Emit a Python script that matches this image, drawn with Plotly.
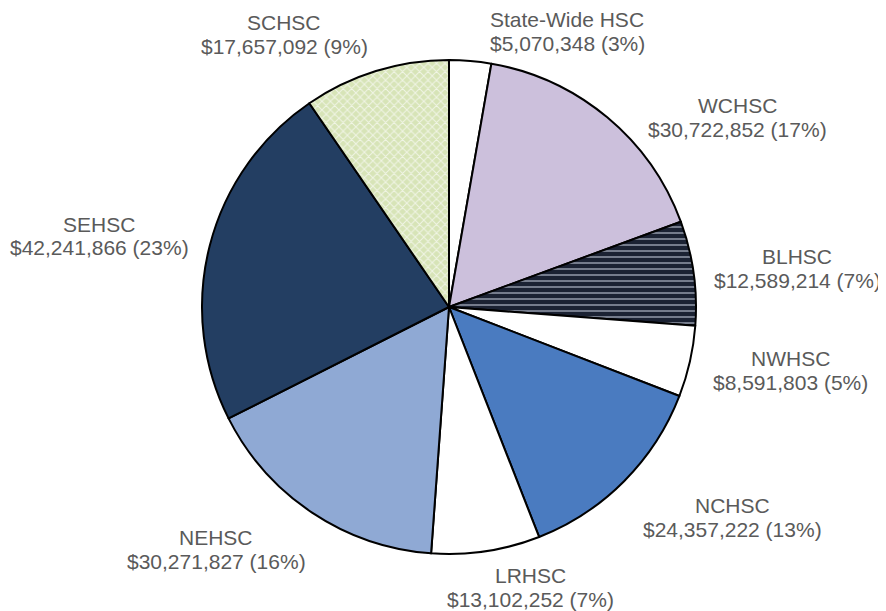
import plotly.graph_objects as go

labels = ["State-Wide HSC", "WCHSC", "BLHSC", "NWHSC", "NCHSC", "LRHSC", "NEHSC", "SEHSC", "SCHSC"]
values = [5070348, 30722852, 12589214, 8591803, 24357222, 13102252, 30271827, 42241866, 17657092]
pct_labels = ["3%", "17%", "7%", "5%", "13%", "7%", "16%", "23%", "9%"]

# label block placement (figure pixels: centre x, centre y of the two-line block)
label_px_x = [559, 729, 789, 782, 724, 522, 208, 91, 276]
label_px_y = [24, 109, 260, 362, 509, 579, 541, 228, 26]

colors = ["#FFFFFF", "#CCC0DC", "#1B2233", "#FFFFFF", "#4A7BC0", "#FFFFFF", "#8FA9D4", "#233E62", "#D7E4B7"]
pattern_shapes = ["", "", "-", "", "", "", "", "", "x"]
pattern_fg = ["#000000", "#000000", "#7F8696", "#000000", "#000000", "#000000", "#000000", "#000000", "#F1F5E6"]

W, H = 886, 611
cx, cy, r = 441, 299, 247
LINE_GAP = 12  # half distance between the two text lines

fig = go.Figure(go.Pie(
    labels=labels,
    values=values,
    textinfo="none",
    sort=False,
    direction="clockwise",
    rotation=0,
    showlegend=False,
    marker=dict(
        colors=colors,
        line=dict(color="#000000", width=2),
        pattern=dict(shape=pattern_shapes, fgcolor=pattern_fg, bgcolor=colors,
                     fillmode="replace", size=6, solidity=0.3),
    ),
    domain=dict(x=[(cx - r) / W, (cx + r) / W], y=[(H - cy - r) / H, (H - cy + r) / H]),
))

font = dict(family="Liberation Sans, Arial, sans-serif", size=21, color="#5A5A5A")
annotations = []
for lab, val, pct, px, py in zip(labels, values, pct_labels, label_px_x, label_px_y):
    for txt, dy in ((lab, -LINE_GAP), (f"${val:,} ({pct})", LINE_GAP)):
        annotations.append(dict(
            text=txt, x=px / W, y=1 - (py + dy) / H, xref="paper", yref="paper",
            xanchor="center", yanchor="middle", showarrow=False, font=font,
            borderpad=0,
        ))

fig.update_layout(
    width=W, height=H,
    margin=dict(l=0, r=0, t=0, b=0),
    paper_bgcolor="#FFFFFF",
    plot_bgcolor="#FFFFFF",
    annotations=annotations,
)

fig.write_html("out.html")
